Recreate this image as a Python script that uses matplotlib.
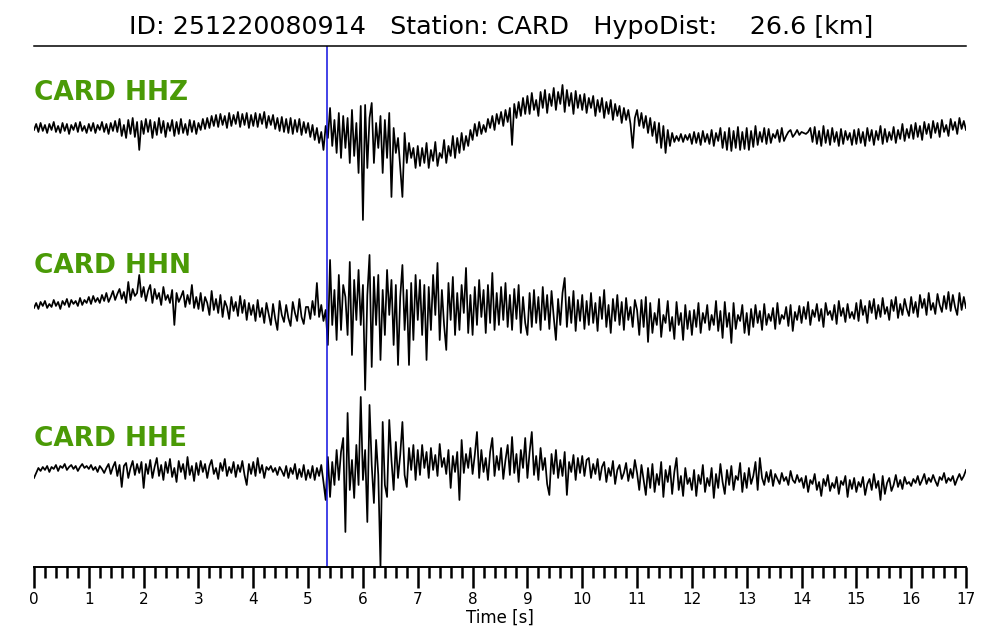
#!/usr/bin/env python
'''
Three component record of event 251220080914 at station CARD,
traces stacked on one time axis with the P pick marked.
'''

import matplotlib as mpl
mpl.use('Agg')
import matplotlib.pyplot as plt
import numpy as np


EVENT_ID = '251220080914'
STATION = 'CARD'
HYPODIST = 26.6          # km
P_PICK = 5.34            # s after trace start
CHANNELS = ['HHZ', 'HHN', 'HHE']
DT = 0.04                # s, read-off sampling of the traces

# trace amplitudes (arbitrary counts, up positive), one row per second
HHZ = [
    -2, 4, -4, 5, -3, 3, -5, 4, -2, 6, -4, 2, -5, 5, -3, 4, -6, 3, -2, 5, -4, 6, -3, 2, -5,
    4, -3, 5, -5, 3, -2, 6, -4, 4, -6, 5, -3, 7, -4, 9, -8, 3, -10, 8, -6, 10, -9, 6, -22, 7,
    -6, 9, -4, 8, -10, 6, -7, 10, -5, 7, -9, 5, -3, 8, -8, 6, -6, 9, -5, 4, -7, 8, -4, 7, -6,
    5, -2, 9, -1, 10, 0, 12, 2, 13, 1, 14, 3, 12, 0, 15, 2, 13, 4, 16, 1, 14, 3, 15, 0, 13,
    2, 15, 1, 14, 4, 16, 0, 12, 3, 13, -1, 10, -3, 11, -4, 9, -5, 10, -6, 8, -4, 9, -7, 6, -5,
    5, -9, 3, -12, 0, -15, -4, -22, 2, -10, 20, -18, 8, -25, 15, -30, 12, -20, 10, -35, 18, -28, 5, -45, 22,
    -92, 23, -40, 10, 25, -35, 5, -20, 12, -45, 8, -30, 15, -69, 0, -25, -10, -40, -69, -5, -35, -15, -30, -20, -40,
    -18, -38, -20, -35, -15, -40, -22, -33, -14, -38, -25, -30, -12, -35, -18, -28, -8, -30, -10, -25, -5, -22, -8, -18, -2,
    -12, 4, -8, 6, -6, 3, -4, 9, 0, 12, -2, 14, 4, 16, 2, 18, 6, 20, -17, 24, 10, 26, 12, 30, 14,
    32, 14, 35, 18, 28, 12, 36, 20, 38, 15, 34, 22, 40, 18, 36, 24, 43, 16, 38, 22, 35, 14, 37, 20, 33,
    18, 34, 15, 30, 20, 32, 12, 28, 16, 30, 10, 26, 14, 28, 8, 24, 12, 22, 5, 20, 8, 18, 4, -20, 10,
    18, 2, 15, 0, 12, -5, 10, -8, 6, -15, 5, -20, 2, -25, -2, -18, -5, -14, -8, -13, -6, -14, -7, -12, -6,
    -16, -4, -15, -5, -17, -3, -14, -6, -16, -2, -18, -5, -13, 0, -20, -4, -22, 0, -23, -3, -20, 1, -22, -4, -21,
    0, -22, -3, -19, 2, -17, -4, -14, 0, -16, -1, -15, -6, -10, -2, -14, 0, -13, -8, -4, -2, -9, -6, -2, -7,
    -4, -5, -6, -4, 0, -14, 1, -16, -3, -18, 2, -15, -2, -17, 0, -14, -4, -18, -1, -16, -3, -12, -5, -17, -2,
    -16, -1, -15, -4, -18, 0, -13, -2, -17, -3, -12, 2, -16, -1, -14, -4, -12, 1, -15, -2, -11, 4, -13, -1, -10,
    3, -11, 5, -9, 2, -12, 6, -6, 4, -10, 7, -5, 5, -9, 8, -4, 3, -8, 9, -2, 6, -6, 10, -1, 7,
    -2]

HHN = [
    -3, 2, -4, 3, -1, 4, -3, 1, -2, 5, -1, 3, -4, 4, 0, 6, -2, 5, 1, 4, -1, 7, 0, 5, 2,
    8, 1, 9, 3, 7, 2, 10, 4, 12, 3, 8, 14, 5, 11, 16, 6, 13, 2, 23, 5, 16, 9, 12, 30, 8,
    18, 4, 14, 20, 2, 16, 6, 12, 0, 18, 5, 10, 2, 15, -20, 12, 3, 8, 14, -2, 10, 1, 20, -3, 8,
    -4, 12, -6, 8, 2, -10, 14, -5, 6, -8, 10, -12, 4, -2, -14, 8, -6, 3, -11, 9, -8, 5, -15, 2, -10,
    0, -16, 5, -12, -3, -18, 2, -9, -20, 1, -14, -25, 4, -10, -17, 0, -13, -21, 3, -8, -16, 6, -12, -19, -2,
    -2, -14, 4, -10, 22, -12, 0, -16, -5, -40, 45, -20, 15, -35, 30, -25, 20, 8, -30, 43, -50, 25, -15, 35, -20,
    20, -85, 10, 50, -62, 28, -20, 30, -55, 15, -30, 35, -10, 25, -40, 20, -60, 8, 40, -25, 15, -60, 22, -35, 30,
    -15, 25, -30, 20, -55, 18, -25, 30, -10, 42, -35, 15, -20, -45, 22, -15, 28, -30, 12, -25, 20, -8, 37, -28, 10,
    -30, 18, -20, 25, -12, 15, -28, 20, -18, 32, -25, 12, -20, 18, -15, 22, -22, 10, -25, 16, -14, 20, -28, 8, -18,
    -30, 12, -22, 15, -18, 8, -25, 18, -15, 10, -24, 14, -12, -35, 6, -20, 12, 27, -22, 8, -18, 14, -26, 5, -16,
    10, -24, 4, -20, 12, -18, 2, -26, 8, -14, 15, -22, 0, -28, 6, -16, 10, -20, 3, -25, 7, -15, -2, -22, 5,
    -5, -30, 5, -22, 8, -37, 2, -28, -8, -20, 6, -32, -10, -18, 4, -26, -12, -34, 3, -20, -8, -35, 0, -24, -6,
    -30, -5, -22, 2, -28, -8, -18, 0, -25, -10, -20, 4, -26, -6, -33, 3, -22, -8, -38, 2, -24, -10, -16, 0, -28,
    -8, -30, -4, -22, 0, -18, -6, -25, 1, -20, -9, -16, -3, -24, 2, -19, -10, -14, -2, -21, 0, -26, -7, -15, -1,
    -18, -2, -14, 3, -20, -5, -12, 1, -16, -4, -22, 2, -10, -6, -15, 0, -19, 4, -11, -3, -17, 1, -13, -7, -14,
    2, -16, 5, -10, -1, -18, 4, -8, 6, -14, 0, -12, 7, -9, -2, -15, 5, -6, 8, -13, 1, -10, 6, -4, -11,
    8, -8, 3, -12, 10, -3, 6, -10, 12, -5, 2, -9, 11, 0, -7, 9, -4, 13, -6, 10, -2, -10, 12, -5, 8,
    -3]

HHE = [
    -8, -3, 2, -1, 3, 0, 4, -2, 3, 1, 5, -1, 4, 2, 6, 0, 3, 5, 1, 4, -1, 3, 6, 2, 4,
    1, 5, 0, 3, -2, 4, 1, -3, 2, 6, -4, 3, 8, -6, 5, -17, 4, 7, -8, 2, 9, -5, 6, -3, 8,
    -18, 6, -4, 10, -8, 3, 12, -6, 5, -10, 8, -3, 11, -7, 2, -12, 9, -2, 6, -9, 13, -5, 4, -11, 7,
    -5, 9, -2, 6, -8, 4, 10, -4, 2, -9, 7, -1, 11, -6, 3, -3, 8, -7, 5, -2, 9, -5, -15, 6, -4,
    8, -6, 12, -3, 5, -8, 3, 0, 4, -2, 2, -5, 3, -1, -6, 4, -8, 2, -4, 6, -9, 1, -7, 5, -10,
    0, -8, 4, -10, 2, -6, 5, -12, -30, 13, -27, 8, -15, 20, -10, 18, 32, -62, 57, -20, 10, -28, 25, -15, 73,
    -10, 20, -52, 65, 5, -33, 30, -5, -97, 48, -15, -27, 50, 10, -20, 28, -8, 15, 48, -5, -17, 22, 0, 25, -10,
    20, -5, 25, 2, 18, -8, 22, 0, 15, -6, 26, 3, 12, -4, 20, -18, 14, -2, 18, -30, 30, -3, 16, 2, 22,
    -4, 15, 38, -8, 20, -2, 12, -10, 18, 32, -6, 14, 0, 22, -9, 10, 25, -5, 33, -3, 16, -12, 20, 2, 32,
    -8, 18, 38, -5, 14, -10, 22, 0, 12, -14, -25, 16, -4, 20, -8, 10, -6, 18, -25, 8, -2, 15, -10, 12, -3,
    14, -6, 10, 12, -8, 6, -4, 11, -10, 3, 8, -12, 2, -6, 9, -14, 0, 5, -9, -3, 7, -11, 1, -8, 10,
    -3, -20, 5, -10, -25, 2, -18, 6, -22, -4, -15, 8, -27, 0, -12, 4, -24, -2, 12, -20, -6, -26, 2, -14, -8,
    -20, 0, -26, -5, -14, 5, -22, -8, -16, 2, -28, -4, -18, 6, -12, -24, 0, -15, 4, -20, -6, -10, 7, -22, -3,
    -18, 2, -14, -6, 8, -20, 12, -8, -15, -2, -12, 0, -16, -4, -9, -14, -3, -11, -7, -15, -1, -10, -13, -5, -12,
    -8, -18, -6, -22, -10, -14, -4, -20, -12, -26, -9, -16, -5, -21, -13, -18, -7, -24, -11, -15, -6, -27, -10, -19, -8,
    -22, -12, -17, -7, -25, -14, -9, -20, -4, -18, -11, -30, -6, -24, -13, -8, -21, -15, -5, -17, -10, -19, -7, -14, -12,
    -16, -9, -13, -6, -15, -10, -4, -14, -8, -12, -5, -11, -16, -7, -10, -3, -13, -8, -11, -6, -15, -9, -4, -10, -6,
    0]

TRACES = [HHZ, HHN, HHE]

# vertical layout of the stack (counts above the time axis)
TRACE_OFFSET = [439, 262, 97]
LABEL_OFFSET = [474, 301, 128]
Y_TOP = 521

LABEL_GREEN = '#4a9a06'


def plot_traces(ax):
    for name, tr, off, loff in zip(CHANNELS, TRACES, TRACE_OFFSET, LABEL_OFFSET):
        y = np.asarray(tr, dtype=float)
        t = np.arange(len(y)) * DT
        ax.plot(t, y + off, '-', color='black', lw=1.25)
        ax.text(0, loff, '%s %s' % (STATION, name), color=LABEL_GREEN,
                fontsize=19, fontweight='bold', ha='left', va='center')
    ax.axvline(P_PICK, color='#1010e0', lw=1.1)


def style_axis(ax):
    ax.set_xlim(0, 17)
    ax.set_ylim(0, Y_TOP)
    for s in ['left', 'right']:
        ax.spines[s].set_visible(False)
    ax.spines['top'].set_linewidth(1.1)
    ax.spines['bottom'].set_linewidth(1.4)
    ax.set_yticks([])
    ax.set_xticks(np.arange(0, 18, 1))
    ax.set_xticks(np.arange(0, 17.01, 0.2), minor=True)
    ax.tick_params(axis='x', which='major', direction='out', length=15,
                   width=1.8, labelsize=11, pad=3)
    ax.tick_params(axis='x', which='minor', direction='out', length=8,
                   width=1.8)
    ax.set_xlabel('Time [s]', fontsize=12, labelpad=1)


def main():
    fig = plt.figure(figsize=(10, 6.4), dpi=100)
    ax = fig.add_axes([0.034, 0.1141, 0.932, 0.8141])
    plot_traces(ax)
    style_axis(ax)
    fig.text(0.501, 0.958,
             'ID: %s   Station: %s   HypoDist: %7.1f [km]' % (EVENT_ID, STATION, HYPODIST),
             fontsize=18.3, ha='center', va='center')
    return fig


fig = main()
fig.savefig('out.png', dpi=100)
